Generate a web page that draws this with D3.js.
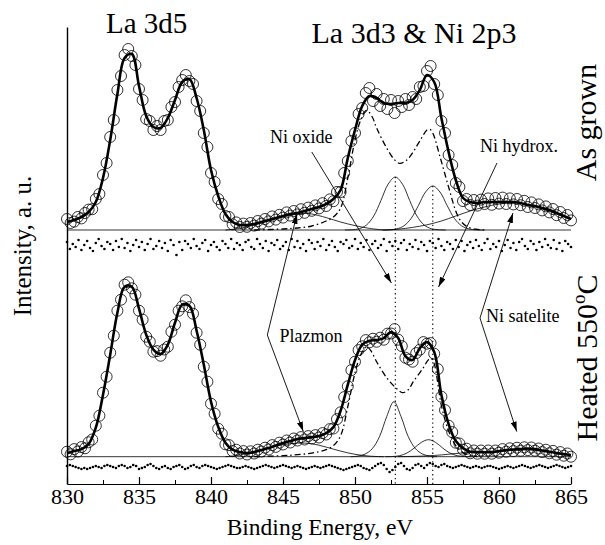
<!DOCTYPE html>
<html><head><meta charset="utf-8">
<script src="https://cdn.jsdelivr.net/npm/d3@7"></script>
<style>
body{margin:0;background:#fff}
text{font-family:"Liberation Serif","Times New Roman",serif;fill:#000}
</style>
</head><body>
<svg id="c" width="605" height="545" font-family="Liberation Serif, serif"></svg>
<script>
// ---------------- DATA ----------------
const energyStart = 830;
const dataStep = 0.25;   // measured points (open circles)
const fitStep = 0.5;     // fitted envelope
const resStep = 0.2;     // residuals

const xTickValues = [830, 835, 840, 845, 850, 855, 860, 865];
const xMinorTickValues = [832.5, 837.5, 842.5, 847.5, 852.5, 857.5, 862.5];

const regionLabels = ["La 3d5", "La 3d3 & Ni 2p3"];
const panelLabels = ["As grown", "Heated 550°C"];
const peakLabels = ["Ni oxide", "Ni hydrox.", "Plazmon", "Ni satelite"];
const xTitle = "Binding Energy, eV";
const yTitle = "Intensity, a. u.";

// As grown: measured intensity (a.u.), 830 ... 865 eV
const grownData = [
 5.5,3.5,4.2,6.5, 5.8,8.5,10.2,10.4, 15.5,18,27.5,33.5, 46.5,55,70,77,
 87.5,90.5,87,82.5, 70.5,65,55.5,54.5, 50,52,50,54.5, 55,61.5,64,71.5,
 75,77.5,74.5,73, 64.5,59.5,48.5,41.5, 28.5,24,15.5,13, 7,6.5,2.8,3.8,
 1.5,3.2,1.6,3.5, 2.2,4.5,3.2,5.5, 4.3,6.8,5.2,7.6, 6.2,8.8,7.2,9.5,
 7.8,10.4,8.6,11.2, 9.6,12.3,10.8,13.4, 12,15.3,14.4,19, 19,28.5,34.5,44.5,
 48.5,58,61,68.5, 71,64.5,68,62, 65.5,60.5,65,58.5, 64.5,61.5,65.5,62.5,
 66.5,65.5,71.5,72, 79.5,82,73,67.5, 54.5,48.5,37.5,32.5, 23.5,21.5,14.5,15.5,
 12.5,15,12.2,15.2, 13,15.8,12.6,16, 13.2,16.2,13,15.8, 12.8,15.5,12.4,14.6,
 11.5,13.8,11,12.8, 9.8,11.8,8.8,10.5, 7.4,9,6,7.5, 4.8];

// Heated 550 C: measured intensity (a.u.)
const heatedData = [
 2.5,1.2,3.8,2.6, 4.8,4.2,7.2,8.6, 15.5,20.5,32,40, 52,60.5,73,78.5,
 86,87.2,84.2,81, 73,68.5,60,57.5, 52.5,52.8,50.5,53.6, 55,62.5,66,73,
 75.2,78.2,74.8,71.5, 62,56,45,37.5, 26.5,21.5,14,11.5, 6.2,5.8,2.8,3.5,
 1.6,2.8,1.1,2.7, 1.6,3.5,2.6,4.5, 3.6,5.8,4.9,7, 6.1,8.1,7.1,9.1,
 8.1,9.8,8.6,10.3, 9.1,10.8,9.6,11.8, 11.1,13.8,14.1,18.8, 22.2,29.8,35.2,43.3,
 47.5,53.3,55.2,58.3, 57.2,59,57.5,59.5, 58.5,61.5,61.6,63.8, 58.5,55.3,49.5,48.6,
 47.5,51.8,53.5,57.3, 56.5,56.8,51.5,43.8, 30,23.3,15.5,12.3, 7,6.6,3.5,4,
 1.7,3.1,1.5,3.1, 1.5,3.1,1.5,3.1, 2,3.8,2.5,4.2, 2.8,4.5,3,4.7,
 3.3,4.6,3,4.1, 2.3,3.5,1.7,2.9, 1,2.3,0.5,1.6, 0];

// fitted envelopes (0.5 eV step)
const grownFit = [
 4,5,6.5,9,14,26,45,68,86,88,72,57,51.5,51,56,65,74,75.5,66,50,30,17,8,4,
 2.5,2.5,3,4,5,6,7,8,8.5,9.5,10.5,11.5,13,15.5,20,36,50,62,67,66,63.5,63,63.5,63.5,
 65,70,77.5,74,56,39,25,16,14,13.5,14,14,14,14,14,13.5,12.5,12,11,10,8.5,7,5.5];
const heatedFit = [
 1.7,2.8,3.8,6.3,14.5,31,51,72,85,85,74,61,53.5,51.3,56,67,76,75.5,63,46,27.5,15,7,3.5,
 2.3,1.8,2.3,3.3,4.3,5.6,6.8,7.8,8.8,9.3,9.8,10.3,11.8,14.8,23,36,48.3,56,58,58.3,59.3,62.3,59.3,50.3,
 48.3,54.3,57.3,52.3,30.8,16.3,7.8,4.3,2.5,2.3,2.2,2.3,2.8,3.3,3.6,3.8,4.1,3.8,3.1,2.5,1.8,1.3,0.8];

// fit components [eV, intensity]
const grownOxide = [[849.3,0],[849.8,0.13],[850.3,0.65],[850.8,2.5],[851.3,7],[851.8,14.7],[852.3,22.9],[852.8,26.5],[853.3,22.9],[853.8,14.7],[854.3,7],[854.8,2.5],[855.3,0.65],[855.8,0.13],[856.3,0]];
const grownHydrox = [[851.9,0],[852.4,0.1],[852.9,0.55],[853.4,2.1],[853.9,5.8],[854.4,12.2],[854.9,19],[855.4,22],[855.9,19],[856.4,12.2],[856.9,5.8],[857.4,2.1],[857.9,0.55],[858.4,0.1],[858.9,0]];
const grownPlasmon = [[841,0],[842,0.8],[843,2.5],[844,4.5],[845,6.5],[846,8],[846.6,8.3],[847,8],[848,6.2],[849,4],[850,2.2],[851,0.8],[852,0]];
const grownSatellite = [[852,0],[853,0.4],[854,1.3],[855,2.6],[856,4.5],[857,7],[858,9.5],[859,11.5],[860,13],[861,13.5],[862,12.5],[863,10.5],[864,8],[865,5.5]];
const grownLa3d3 = [[843,0],[845,0.5],[846,1],[847,2],[848,4.5],[848.5,6.5],[849,11],[849.5,26],[850,45],[850.4,55],[850.8,59.8],[851.2,56.5],[851.5,51],[852.2,41],[852.7,35.5],[853.1,33.3],[853.6,35],[854.05,39.2],[854.5,44.5],[855,50],[855.2,50.3],[855.4,48.5],[855.9,36.7],[856.5,21.5],[857.05,8.5],[857.4,4],[857.8,1.6],[858.4,0.4],[859,0]];

const heatedOxide = [[849.7,0],[850.2,0.3],[850.7,1.3],[851.2,4],[851.7,10],[852.2,20],[852.7,27.5],[853.2,20],[853.7,10],[854.2,4],[854.7,1.3],[855.2,0.3],[855.7,0]];
const heatedHydrox = [[852.1,0],[852.6,0.1],[853.1,0.5],[853.6,1.8],[854.1,4.25],[854.6,7.15],[855.1,8.5],[855.6,7.15],[856.1,4.25],[856.6,1.8],[857.1,0.5],[857.6,0.1],[858.1,0]];
const heatedPlasmon = [[841,0],[842,0.8],[843,2.5],[844,4.5],[845,6],[846,6.8],[847,6.5],[848,4.8],[849,2.8],[850,1.2],[851,0.3],[852,0]];
const heatedSatellite = [[853,0],[855,0.4],[856,0.9],[857,1.6],[858,2.2],[859,2.5],[860,2.8],[861,3.2],[862,3.4],[863,2.8],[864,1.8],[865,0.8]];
const heatedLa3d3 = [[843,0],[845,0.5],[846,1],[847,1.8],[848,3.5],[848.5,5.5],[849,10.5],[849.5,25],[850,42],[850.4,51],[850.8,55],[851.1,53],[851.5,47.5],[852.2,39.5],[852.9,34],[853.3,32],[853.7,33.5],[854.05,37.5],[854.7,44],[855.1,48.5],[855.3,49],[855.5,46.5],[856,25.5],[856.5,13],[857,5.5],[857.5,2],[858,0.7],[858.5,0]];

// peak positions (dotted guides), eV
const guideEnergies = [852.8, 855.4];

// residuals (0.2 eV step)
const grownRes = [
 3,-4,1,-2,5,-5,0,4,-3,-6,2,6,-1,-4,3,1,-5,4,-2,6,
 -3,2,-6,0,5,-2,3,-5,1,6,-4,-1,4,-3,2,-6,5,0,-10,3,
 -5,4,1,-3,6,-1,-4,2,5,-6,0,3,-2,-5,4,1,-3,6,-4,2,
 0,-5,3,5,-2,-4,6,1,-3,4,-6,2,0,5,-4,-1,3,-5,6,-2,
 4,-3,1,-6,5,2,-4,3,-1,6,-5,0,4,-2,-6,3,1,5,-3,-1,
 6,-4,2,-2,5,-5,1,4,-3,0,6,-6,3,-1,4,-4,2,5,-5,1,
 -2,5,-4,3,0,-6,4,2,-3,6,-1,-5,3,1,-4,5,-2,4,-6,0,
 3,-3,5,-1,-5,2,6,-4,1,-2,4,-6,0,5,-3,2,-5,3,6,-1,
 -4,4,1,-5,3,-2,6,0,-3,5,-4,2,-6,4,1,-2];
const heatedRes = [
 1,2,1,0,-1,-2,-1,-2,-1,0,1,0,-1,1,2,1,0,-1,1,2,
 1,-1,0,2,1,-2,-1,0,2,3,1,-1,-2,0,1,-1,-2,0,1,2,
 0,-2,-1,1,2,0,-1,1,2,1,0,-1,-2,-1,0,1,2,1,0,-1,
 -1,0,1,0,-1,-2,-1,0,1,2,1,0,-1,0,1,2,1,0,-1,0,
 1,0,-1,-2,-1,0,1,0,-1,0,1,2,1,0,-1,-2,-3,-2,-1,0,
 1,2,1,-1,-2,-3,-1,1,3,4,2,-2,-5,-3,0,3,4,1,-2,-3,
 -1,2,3,1,-1,2,4,3,1,0,2,3,1,0,-1,0,1,2,1,0,
 -1,0,1,0,-1,0,1,1,0,-1,-2,-1,0,1,0,-1,0,1,2,1,
 0,-1,0,1,2,1,0,-1,0,1,2,1,0,-1,0,1];

// ---------------- DRAWING ----------------
const svg = d3.select("#c");
const x = d3.scaleLinear().domain([830, 865]).range([67, 571]);
const yTop = d3.scaleLinear().domain([0, 100]).range([230, 30]);
const yBot = d3.scaleLinear().domain([0, 100]).range([456.7, 256.7]);
const rTop = d3.scaleLinear().domain([-10, 10]).range([255, 235]);
const rBot = d3.scaleLinear().domain([-10, 10]).range([477, 457]);
const yFrame = d3.scaleLinear().domain([0, 1]).range([484, 27]);

const withE = (arr, step) => arr.map((v, i) => [energyStart + i * step, v]);
const mkLine = y => d3.line().x(d => x(d[0])).y(d => y(d[1])).curve(d3.curveCatmullRom.alpha(0.5));

const defs = svg.append("defs");
defs.append("marker").attr("id", "ah").attr("viewBox", "0 0 10 6")
  .attr("refX", 10).attr("refY", 3).attr("markerWidth", 10).attr("markerHeight", 6)
  .attr("markerUnits", "userSpaceOnUse").attr("orient", "auto")
  .append("path").attr("d", "M0,0L10,3L0,6z").attr("fill", "#000");

const panels = [
  {y: yTop, r: rTop, data: grownData, fit: grownFit, res: grownRes,
   comps: [grownOxide, grownHydrox, grownPlasmon, grownSatellite], la: grownLa3d3},
  {y: yBot, r: rBot, data: heatedData, fit: heatedFit, res: heatedRes,
   comps: [heatedOxide, heatedHydrox, heatedPlasmon, heatedSatellite], la: heatedLa3d3}
];

const g = svg.append("g");
panels.forEach(p => {
  g.append("path").datum([[830, 0], [865, 0]]).attr("d", mkLine(p.y))
    .attr("fill", "none").attr("stroke", "#000").attr("stroke-width", 0.8);
  p.comps.forEach(c => g.append("path").datum(c).attr("d", mkLine(p.y))
    .attr("fill", "none").attr("stroke", "#000").attr("stroke-width", 0.8));
  g.append("path").datum(p.la).attr("d", mkLine(p.y))
    .attr("fill", "none").attr("stroke", "#000").attr("stroke-width", 1.3)
    .attr("stroke-dasharray", "6,3,1.5,3");
});

const guideTops = [d3.max(grownOxide, d => d[1]), d3.max(grownHydrox, d => d[1])];
guideEnergies.forEach((e, i) => {
  g.append("line").attr("x1", x(e)).attr("x2", x(e))
    .attr("y1", yTop(guideTops[i])).attr("y2", yFrame(0))
    .attr("stroke", "#000").attr("stroke-width", 1.1).attr("stroke-dasharray", "1.3,3");
});

panels.forEach(p => {
  g.append("g").selectAll("circle").data(withE(p.res, resStep)).join("circle")
    .attr("cx", d => x(d[0])).attr("cy", d => p.r(d[1])).attr("r", 1.3).attr("fill", "#000");
  g.append("g").selectAll("circle").data(withE(p.data, dataStep)).join("circle")
    .attr("cx", d => x(d[0])).attr("cy", d => p.y(d[1])).attr("r", 5.5)
    .attr("fill", "none").attr("stroke", "#000").attr("stroke-width", 0.8);
  g.append("path").datum(withE(p.fit, fitStep)).attr("d", mkLine(p.y))
    .attr("fill", "none").attr("stroke", "#000").attr("stroke-width", 2.6);
});

// annotation arrows, coordinates in (eV, top-panel intensity units)
const arrows = [
  [[847.0, 39], [852.53, -26.5]],
  [[859.86, 33.5], [855.8, -28.5]],
  [[858.68, -44], [860.97, 8.5]],
  [[858.68, -44], [861.23, -100.8]],
  [[843.91, -52.5], [845.97, 8]],
  [[843.91, -52.5], [846.41, -100.8]]
];
arrows.forEach(a => {
  g.append("line").attr("x1", x(a[0][0])).attr("y1", yTop(a[0][1]))
    .attr("x2", x(a[1][0])).attr("y2", yTop(a[1][1]))
    .attr("stroke", "#000").attr("stroke-width", 0.9).attr("marker-end", "url(#ah)");
});

// labels
svg.append("text").attr("x", 146.7).attr("y", 33).attr("text-anchor", "middle")
  .attr("font-size", 29).text(regionLabels[0]);
svg.append("text").attr("x", 414).attr("y", 43).attr("text-anchor", "middle")
  .attr("font-size", 30).text(regionLabels[1]);
const pl = [[270, 143.3], [480, 151.5], [279.5, 342.3], [486, 321.7]];
peakLabels.forEach((t, i) => svg.append("text").attr("x", pl[i][0]).attr("y", pl[i][1])
  .attr("font-size", 18).text(t));

svg.append("text").attr("transform", "translate(596,122.5) rotate(-90)")
  .attr("text-anchor", "middle").attr("font-size", 30).text(panelLabels[0]);
const hp = panelLabels[1].split("°");
const ht = svg.append("text").attr("transform", "translate(597,358) rotate(-90)")
  .attr("text-anchor", "middle").attr("font-size", 30);
ht.append("tspan").text(hp[0]);
ht.append("tspan").attr("font-size", 19).attr("dy", -12).text("o");
ht.append("tspan").attr("dy", 12).text(hp[1]);

svg.append("text").attr("transform", "translate(31,246) rotate(-90)")
  .attr("text-anchor", "middle").attr("font-size", 25).text(yTitle);
svg.append("text").attr("x", 320).attr("y", 535).attr("text-anchor", "middle")
  .attr("font-size", 23.5).text(xTitle);

// axes
const ax = svg.append("g").attr("transform", `translate(0,${yFrame(0)})`)
  .call(d3.axisBottom(x).tickValues(xTickValues).tickSizeInner(-7).tickSizeOuter(0)
    .tickPadding(4).tickFormat(d3.format("d")));
ax.attr("font-family", "Liberation Serif, serif");
ax.selectAll("text").attr("font-size", 22);
ax.selectAll("path,line").attr("stroke", "#000").attr("stroke-width", 1.2);
const axm = svg.append("g").attr("transform", `translate(0,${yFrame(0)})`)
  .call(d3.axisBottom(x).tickValues(xMinorTickValues).tickSizeInner(-4).tickSizeOuter(0).tickFormat(""));
axm.select(".domain").remove();
axm.selectAll("line").attr("stroke", "#000").attr("stroke-width", 1);

const ay = svg.append("g").attr("transform", `translate(${x(830)},0)`)
  .call(d3.axisLeft(yFrame).tickValues([]).tickSizeOuter(0));
ay.selectAll("path").attr("stroke", "#000").attr("stroke-width", 1.4);
</script>
</body></html>
